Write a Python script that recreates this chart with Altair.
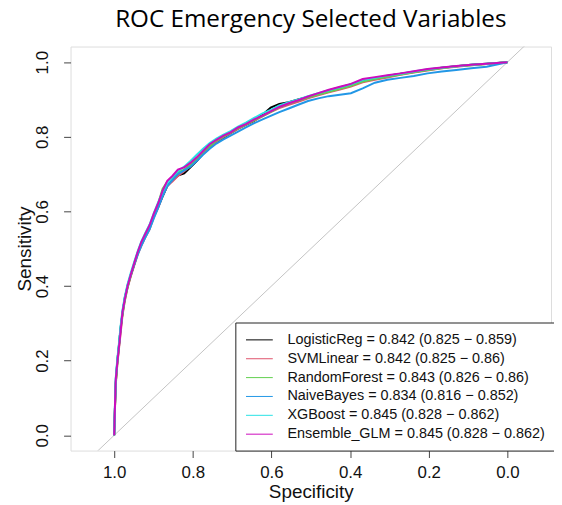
import altair as alt
import pandas as pd

models = ["LogisticReg", "SVMLinear", "RandomForest", "NaiveBayes", "XGBoost", "Ensemble_GLM"]
auc = [0.842, 0.842, 0.843, 0.834, 0.845, 0.845]
ci_lo = [0.825, 0.825, 0.826, 0.816, 0.828, 0.828]
ci_hi = [0.859, 0.86, 0.86, 0.852, 0.862, 0.862]
colors = ["#000000", "#DF536B", "#61D04F", "#2297E6", "#28E2E5", "#CD0BBC"]

specificity = [1.000, 0.998, 0.996, 0.992, 0.988, 0.984, 0.979, 0.973, 0.966, 0.958,
               0.949, 0.940, 0.931, 0.921, 0.910, 0.899, 0.888, 0.877, 0.865, 0.852,
               0.838, 0.822, 0.806, 0.790, 0.774, 0.757, 0.740, 0.722, 0.704, 0.685,
               0.665, 0.645, 0.624, 0.602, 0.580, 0.556, 0.532, 0.507, 0.481, 0.454,
               0.426, 0.398, 0.368, 0.337, 0.305, 0.272, 0.238, 0.203, 0.167, 0.130,
               0.092, 0.053, 0.000]

sens_logistic = [0.000, 0.075, 0.140, 0.200, 0.240, 0.285, 0.325, 0.368, 0.398, 0.428,
                 0.458, 0.488, 0.512, 0.535, 0.558, 0.588, 0.612, 0.640, 0.668, 0.684,
                 0.696, 0.702, 0.718, 0.735, 0.755, 0.770, 0.785, 0.798, 0.810, 0.822,
                 0.832, 0.842, 0.858, 0.878, 0.888, 0.893, 0.900, 0.907, 0.915, 0.924,
                 0.932, 0.940, 0.950, 0.957, 0.963, 0.969, 0.974, 0.980, 0.985, 0.989,
                 0.993, 0.996, 1.000]
sens_svm = [0.000, 0.070, 0.135, 0.190, 0.230, 0.270, 0.320, 0.360, 0.395, 0.425,
            0.455, 0.485, 0.508, 0.530, 0.552, 0.585, 0.610, 0.642, 0.668, 0.680,
            0.695, 0.708, 0.722, 0.738, 0.756, 0.772, 0.787, 0.799, 0.810, 0.821,
            0.832, 0.843, 0.854, 0.866, 0.877, 0.886, 0.894, 0.903, 0.911, 0.919,
            0.927, 0.935, 0.946, 0.953, 0.959, 0.966, 0.972, 0.978, 0.984, 0.988,
            0.992, 0.995, 1.000]
sens_rf = [0.000, 0.075, 0.140, 0.192, 0.235, 0.280, 0.325, 0.362, 0.396, 0.428,
           0.460, 0.490, 0.515, 0.540, 0.562, 0.590, 0.622, 0.660, 0.680, 0.690,
           0.705, 0.712, 0.725, 0.742, 0.760, 0.775, 0.790, 0.801, 0.811, 0.823,
           0.833, 0.844, 0.855, 0.867, 0.879, 0.889, 0.897, 0.905, 0.913, 0.921,
           0.929, 0.937, 0.948, 0.955, 0.961, 0.967, 0.973, 0.979, 0.984, 0.989,
           0.992, 0.995, 1.000]
sens_nb = [0.000, 0.080, 0.150, 0.200, 0.240, 0.285, 0.330, 0.368, 0.402, 0.430,
           0.458, 0.485, 0.508, 0.530, 0.552, 0.582, 0.610, 0.640, 0.668, 0.684,
           0.700, 0.710, 0.720, 0.735, 0.752, 0.768, 0.782, 0.793, 0.803, 0.814,
           0.825, 0.836, 0.846, 0.856, 0.866, 0.876, 0.886, 0.896, 0.903, 0.909,
           0.913, 0.917, 0.930, 0.945, 0.953, 0.958, 0.963, 0.970, 0.975, 0.979,
           0.984, 0.988, 1.000]
sens_xgb = [0.000, 0.085, 0.155, 0.205, 0.245, 0.290, 0.335, 0.372, 0.405, 0.435,
            0.465, 0.494, 0.520, 0.542, 0.565, 0.596, 0.625, 0.652, 0.676, 0.692,
            0.708, 0.720, 0.735, 0.752, 0.768, 0.783, 0.795, 0.806, 0.815, 0.827,
            0.838, 0.850, 0.862, 0.872, 0.884, 0.893, 0.900, 0.909, 0.917, 0.925,
            0.933, 0.941, 0.952, 0.958, 0.964, 0.969, 0.975, 0.981, 0.985, 0.989,
            0.993, 0.996, 1.000]
sens_ens = [0.000, 0.080, 0.150, 0.195, 0.235, 0.275, 0.330, 0.365, 0.400, 0.430,
            0.462, 0.492, 0.518, 0.540, 0.563, 0.595, 0.622, 0.655, 0.682, 0.695,
            0.712, 0.718, 0.730, 0.745, 0.762, 0.780, 0.792, 0.803, 0.812, 0.825,
            0.834, 0.846, 0.856, 0.868, 0.880, 0.890, 0.898, 0.908, 0.917, 0.926,
            0.934, 0.942, 0.955, 0.960, 0.965, 0.970, 0.976, 0.982, 0.986, 0.990,
            0.993, 0.996, 1.000]

all_sens = [sens_logistic, sens_svm, sens_rf, sens_nb, sens_xgb, sens_ens]
labels = [f"{m} = {a} ({lo} \u2212 {hi})" for m, a, lo, hi in zip(models, auc, ci_lo, ci_hi)]

rows = []
for lab, sens in zip(labels, all_sens):
    for i, (sp, se) in enumerate(zip(specificity, sens)):
        rows.append({"model": lab, "spec": sp, "sens": se, "idx": i})
df = pd.DataFrame(rows)

diag_spec = [1.2, -0.2]
diag_sens = [-0.2, 1.2]
diag_df = pd.DataFrame({"spec": diag_spec, "sens": diag_sens})

FONT = "Liberation Sans"
TXT = "#111111"

xscale = alt.Scale(domain=[-0.111, 1.111], reverse=True, nice=False, zero=False)
yscale = alt.Scale(domain=[-0.041, 1.042], nice=False, zero=False)

xaxis = alt.Axis(values=[1.0, 0.8, 0.6, 0.4, 0.2, 0.0], format=".1f", title="Specificity",
                 domain=False, grid=False, tickSize=7, tickColor="#444444",
                 labelFontSize=17, labelFont=FONT, labelColor=TXT, labelPadding=7,
                 titleFontSize=19, titleFont=FONT, titleFontWeight="normal", titleColor=TXT,
                 titleX=242, titleY=41, titleAlign="center", titleBaseline="middle")
yaxis = alt.Axis(values=[0.0, 0.2, 0.4, 0.6, 0.8, 1.0], format=".1f", title="Sensitivity",
                 domain=False, grid=False, tickSize=7, tickColor="#444444",
                 labelFontSize=17, labelFont=FONT, labelColor=TXT, labelPadding=12,
                 labelAngle=270, labelAlign="center", labelBaseline="bottom",
                 titleFontSize=19, titleFont=FONT, titleFontWeight="normal", titleColor=TXT,
                 titleAngle=270, titleX=-46, titleY=203.5, titleAlign="center",
                 titleBaseline="middle")

diag = alt.Chart(diag_df).mark_line(color="#C4C4C4", strokeWidth=1, clip=True).encode(
    x=alt.X("spec:Q", scale=xscale, axis=xaxis),
    y=alt.Y("sens:Q", scale=yscale, axis=yaxis),
)

legend = alt.Legend(title=None, orient="none", legendX=166, legendY=278,
                    strokeColor="#222222", fillColor="white", padding=10, cornerRadius=0,
                    symbolType="M-1,0L3,0", symbolSize=182, symbolStrokeWidth=1,
                    labelOffset=27.5, labelFont=FONT, labelFontSize=14.5, labelColor=TXT,
                    rowPadding=4, labelLimit=400)
color = alt.Color("model:N", scale=alt.Scale(domain=labels, range=colors), legend=legend)

layers = [diag]
for lab in labels:
    layers.append(
        alt.Chart(df).transform_filter(alt.datum.model == lab).mark_line(strokeWidth=2, clip=True).encode(
            x=alt.X("spec:Q", scale=xscale, axis=xaxis),
            y=alt.Y("sens:Q", scale=yscale, axis=yaxis),
            color=color,
            order="idx:Q",
        )
    )

chart = alt.layer(*layers).properties(
    width=484, height=407,
    autosize=alt.AutoSizeParams(type="none"),
    padding={"left": 63, "top": 37, "right": 3, "bottom": 50},
    title=alt.TitleParams("ROC Emergency Selected Variables", font="Open Sans", fontSize=24.4,
                          fontWeight="normal", color="#000000", anchor="middle",
                          offset=17, baseline="alphabetic", dy=22),
).configure_view(stroke="#555555", strokeWidth=1).configure(background="white")

chart.save("out.html", embed_options={"renderer": "svg", "actions": False})
